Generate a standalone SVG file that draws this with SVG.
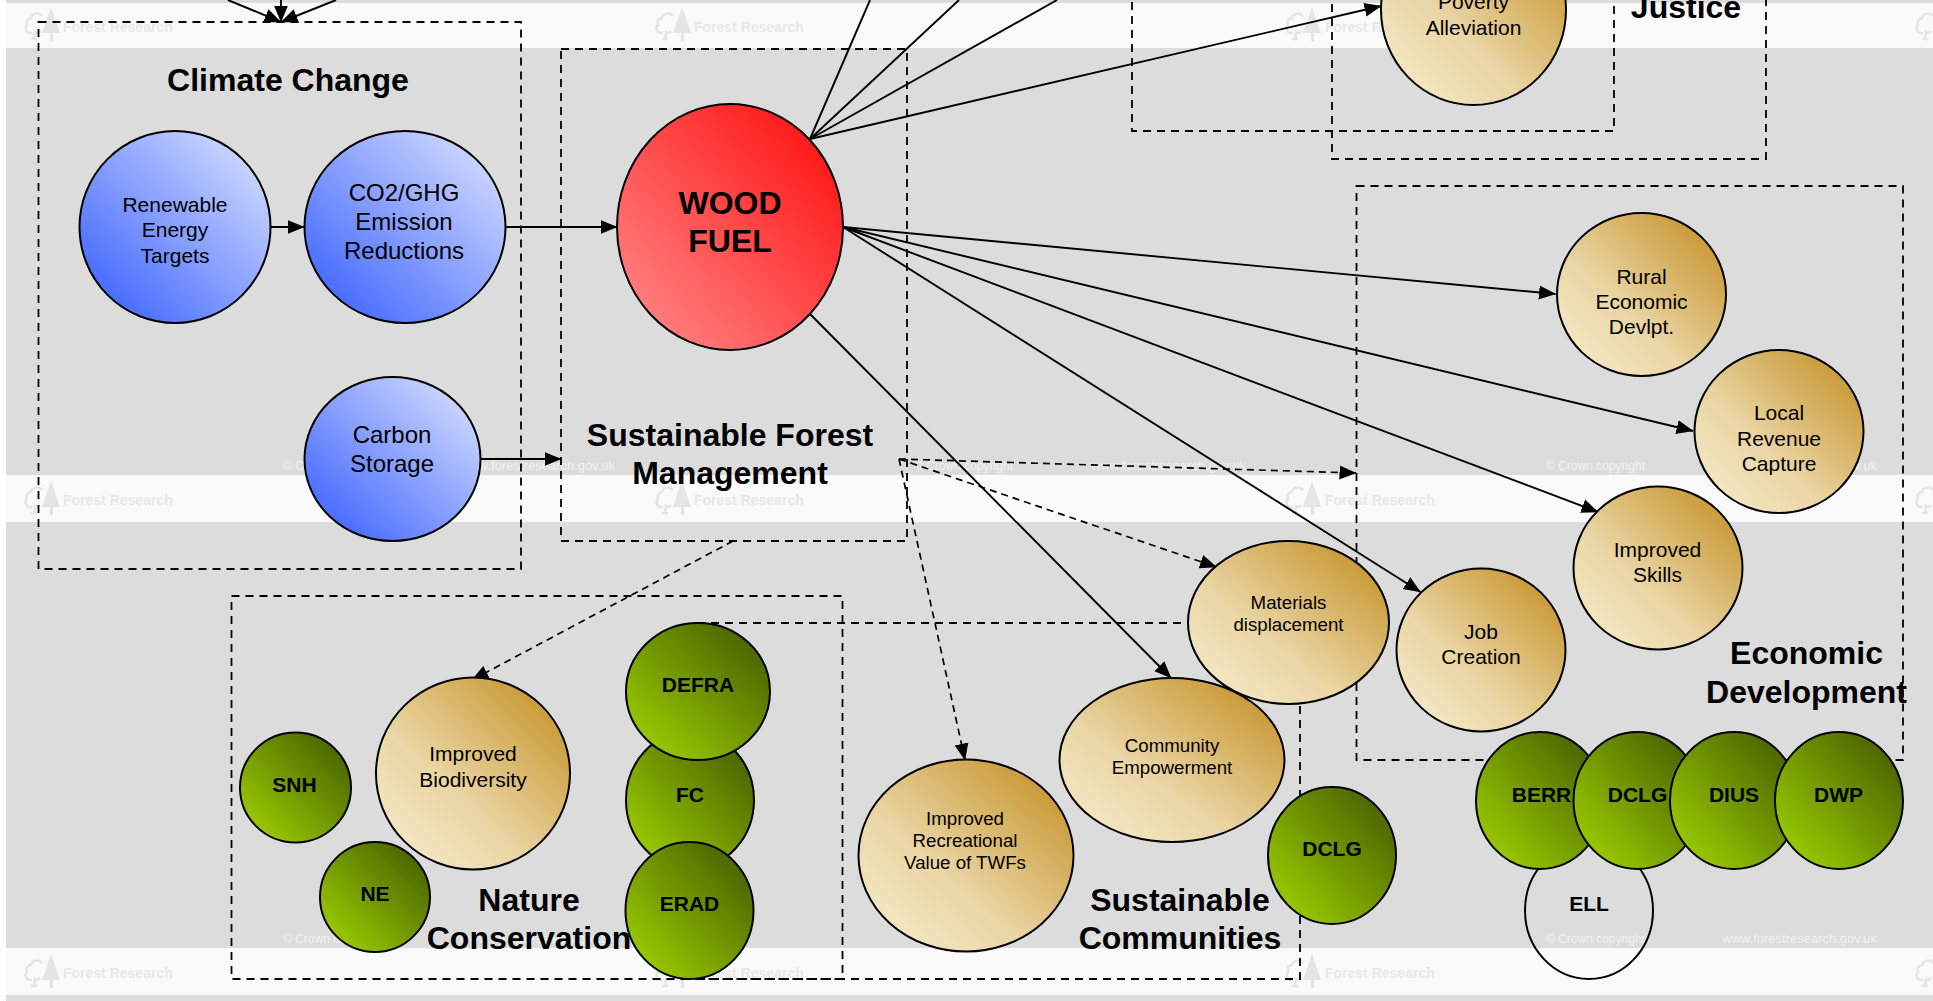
<svg xmlns="http://www.w3.org/2000/svg" width="1933" height="1001" viewBox="0 0 1933 1001" font-family="'Liberation Sans', Arial, sans-serif">
<style>
text{font-family:'Liberation Sans',Arial,sans-serif;text-anchor:middle;fill:#000}
.b{font-weight:bold}
.t{font-size:32px;font-weight:bold}
.g{font-size:21px;font-weight:bold}
.n21{font-size:21px}.n24{font-size:24px}.n19{font-size:18.7px}
.box{fill:none;stroke:#000;stroke-width:1.8;stroke-dasharray:8 6}
.node{stroke:#000;stroke-width:2}
.blue{fill:url(#blue)}.tan{fill:url(#tan)}.green{fill:url(#green)}.red{fill:url(#red)}
.c{stroke:#000;stroke-width:1.9;fill:none;marker-end:url(#arrow)}
.p{stroke:#000;stroke-width:1.9;fill:none}
.d{stroke:#000;stroke-width:1.7;fill:none;stroke-dasharray:7 5;marker-end:url(#arrow)}
.wm{font-size:14px;font-weight:bold;fill:#e8e8e8;text-anchor:start}
.cr{font-size:12px;fill:#f1f1f1;text-anchor:start}
.www{font-size:13px;fill:#f1f1f1;text-anchor:start}
</style>
<defs>
<linearGradient id="blue" x1="0.15" y1="0.85" x2="0.85" y2="0.15"><stop offset="0" stop-color="#4a6eff"/><stop offset="1" stop-color="#c6d2ff"/></linearGradient>
<linearGradient id="tan" x1="0.15" y1="0.85" x2="0.85" y2="0.15"><stop offset="0" stop-color="#f2e5bf"/><stop offset="0.35" stop-color="#ead6a6"/><stop offset="1" stop-color="#cb9c3a"/></linearGradient>
<linearGradient id="green" x1="0.15" y1="0.85" x2="0.85" y2="0.15"><stop offset="0" stop-color="#95c600"/><stop offset="1" stop-color="#4e6800"/></linearGradient>
<linearGradient id="red" x1="0.15" y1="0.85" x2="0.85" y2="0.15"><stop offset="0" stop-color="#ff7b7b"/><stop offset="1" stop-color="#ff1c1c"/></linearGradient>
<marker id="arrow" markerUnits="userSpaceOnUse" markerWidth="18" markerHeight="16" refX="16.5" refY="7.5" orient="auto"><path d="M0 0.5L17 7.5L0 14.5z" fill="#000"/></marker>
<g id="tree"><path d="M8 26C2 27 0 21 3 18C1 14 5 11 7 11C8 6 15 5 18 9" fill="none" stroke="#e5e5e5" stroke-width="2.5"/><path d="M16 24C14 27 12 26 11 25L10 32M7 32L13 32" fill="none" stroke="#e5e5e5" stroke-width="2.5"/><path d="M27 0L36 26L29 26L29 34L26 34L26 26L18 26z" fill="#e5e5e5"/></g>
</defs>

<g id="backdrop">
<rect width="1933" height="1001" fill="#fff"/>
<rect x="6" y="0" width="1927" height="1001" fill="#dcdcdc"/>
<rect x="6" y="3" width="1927" height="45" fill="#fafafa"/>
<rect x="6" y="475" width="1927" height="47" fill="#fafafa"/>
<rect x="6" y="948" width="1927" height="47" fill="#fafafa"/>
<use href="#tree" x="24" y="7"/><use href="#tree" x="655" y="7"/><use href="#tree" x="1285" y="7"/><use href="#tree" x="1915" y="7"/>
<use href="#tree" x="24" y="481"/><use href="#tree" x="655" y="481"/><use href="#tree" x="1285" y="481"/><use href="#tree" x="1915" y="481"/>
<use href="#tree" x="24" y="954"/><use href="#tree" x="655" y="954"/><use href="#tree" x="1285" y="954"/><use href="#tree" x="1915" y="954"/>
<text class="wm" x="63" y="32">Forest Research</text><text class="wm" x="694" y="32">Forest Research</text><text class="wm" x="1325" y="32">Forest Research</text>
<text class="wm" x="63" y="505">Forest Research</text><text class="wm" x="694" y="505">Forest Research</text><text class="wm" x="1325" y="505">Forest Research</text>
<text class="wm" x="63" y="978">Forest Research</text><text class="wm" x="694" y="978">Forest Research</text><text class="wm" x="1325" y="978">Forest Research</text>
<text class="cr" x="283" y="470">© Crown copyright</text><text class="cr" x="914" y="470">© Crown copyright</text><text class="cr" x="1546" y="470">© Crown copyright</text>
<text class="www" x="460" y="470">www.forestresearch.gov.uk</text><text class="www" x="1091" y="470">www.forestresearch.gov.uk</text><text class="www" x="1722" y="470">www.forestresearch.gov.uk</text>
<text class="cr" x="283" y="943">© Crown copyright</text><text class="cr" x="914" y="943">© Crown copyright</text><text class="cr" x="1546" y="943">© Crown copyright</text>
<text class="www" x="460" y="943">www.forestresearch.gov.uk</text><text class="www" x="1091" y="943">www.forestresearch.gov.uk</text><text class="www" x="1722" y="943">www.forestresearch.gov.uk</text>
</g>

<g id="sections">
<rect class="box" x="38.5" y="22" width="482.5" height="547"/>
<rect class="box" x="561" y="49" width="346" height="492"/>
<rect class="box" x="231.5" y="596" width="611" height="383"/>
<rect class="box" x="697" y="623" width="603" height="356"/>
<rect class="box" x="1132" y="-30" width="482" height="161"/>
<rect class="box" x="1332" y="-30" width="434" height="189"/>
<rect class="box" x="1356.5" y="186" width="546.5" height="574"/>
<text class="t" x="288" y="91">Climate Change</text>
<text class="t" x="730" y="446">Sustainable Forest</text>
<text class="t" x="730" y="484">Management</text>
<text class="t" x="529" y="911">Nature</text>
<text class="t" x="529" y="949">Conservation</text>
<text class="t" x="1180" y="911">Sustainable</text>
<text class="t" x="1180" y="949">Communities</text>
<text class="t" x="1806.5" y="664">Economic</text>
<text class="t" x="1806.5" y="703">Development</text>
<text class="t" x="1686" y="18">Justice</text>
</g>

<g id="connectors">
<line class="c" x1="228" y1="0" x2="281" y2="22"/>
<line class="c" x1="281" y1="0" x2="281" y2="22"/>
<line class="c" x1="336" y1="0" x2="281" y2="22"/>
<line class="c" x1="270" y1="227" x2="304" y2="227"/>
<line class="c" x1="505" y1="227" x2="617" y2="227"/>
<line class="c" x1="481" y1="459" x2="561" y2="459"/>
<line class="p" x1="810" y1="139" x2="870" y2="0"/>
<line class="p" x1="810" y1="139" x2="959" y2="0"/>
<line class="p" x1="810" y1="139" x2="1057" y2="0"/>
<line class="c" x1="810" y1="139" x2="1381" y2="6"/>
<line class="c" x1="843" y1="227" x2="1555.5" y2="294"/>
<line class="c" x1="843" y1="227" x2="1693" y2="431"/>
<line class="c" x1="843" y1="227" x2="1598" y2="512"/>
<line class="c" x1="843" y1="227" x2="1420.5" y2="592"/>
<line class="c" x1="810" y1="314" x2="1171" y2="678"/>
<line class="d" x1="899" y1="459" x2="1356" y2="473"/>
<line class="d" x1="899" y1="459" x2="1216.5" y2="567"/>
<line class="d" x1="899" y1="459" x2="965" y2="760"/>
<line class="d" x1="733" y1="541" x2="472" y2="680"/>
</g>

<g id="renewable"><ellipse class="node blue" cx="175" cy="227" rx="95.5" ry="96"/><text class="n21" x="175" y="212">Renewable</text><text class="n21" x="175" y="237">Energy</text><text class="n21" x="175" y="263">Targets</text></g>
<g id="co2"><ellipse class="node blue" cx="405" cy="227" rx="100.5" ry="96"/><text class="n24" x="404" y="201">CO2/GHG</text><text class="n24" x="404" y="230">Emission</text><text class="n24" x="404" y="259">Reductions</text></g>
<g id="carbon"><ellipse class="node blue" cx="392.5" cy="459" rx="88" ry="82"/><text class="n24" x="392" y="443">Carbon</text><text class="n24" x="392" y="472">Storage</text></g>
<g id="woodfuel"><ellipse class="node red" cx="730" cy="227" rx="113" ry="123"/><text class="b" font-size="32" x="730" y="214">WOOD</text><text class="b" font-size="32" x="730" y="252">FUEL</text></g>
<g id="poverty"><ellipse class="node tan" cx="1473.5" cy="10" rx="92.5" ry="95"/><text class="n21" x="1473.5" y="9">Poverty</text><text class="n21" x="1473.5" y="35">Alleviation</text></g>
<g id="rural"><ellipse class="node tan" cx="1641.5" cy="294.5" rx="84.5" ry="81.5"/><text class="n21" x="1641.5" y="284">Rural</text><text class="n21" x="1641.5" y="309">Economic</text><text class="n21" x="1641.5" y="334">Devlpt.</text></g>
<g id="local"><ellipse class="node tan" cx="1779" cy="431.5" rx="84.5" ry="81.5"/><text class="n21" x="1779" y="420">Local</text><text class="n21" x="1779" y="446">Revenue</text><text class="n21" x="1779" y="471">Capture</text></g>
<g id="skills"><ellipse class="node tan" cx="1658" cy="568" rx="84.5" ry="81.5"/><text class="n21" x="1657.5" y="557">Improved</text><text class="n21" x="1657.5" y="582">Skills</text></g>
<g id="materials"><ellipse class="node tan" cx="1288.5" cy="622.5" rx="100.5" ry="81.5"/><text class="n19" x="1288.5" y="609">Materials</text><text class="n19" x="1288.5" y="631">displacement</text></g>
<g id="community"><ellipse class="node tan" cx="1172" cy="760" rx="112.5" ry="82"/><text class="n19" x="1172" y="752">Community</text><text class="n19" x="1172" y="774">Empowerment</text></g>
<g id="job"><ellipse class="node tan" cx="1481" cy="650" rx="84.5" ry="81.5"/><text class="n21" x="1481" y="639">Job</text><text class="n21" x="1481" y="664">Creation</text></g>
<g id="recreation"><ellipse class="node tan" cx="966" cy="855.5" rx="107.5" ry="96"/><text class="n19" x="965" y="825">Improved</text><text class="n19" x="965" y="847">Recreational</text><text class="n19" x="965" y="869">Value of TWFs</text></g>
<g id="biodiversity"><ellipse class="node tan" cx="473" cy="773.5" rx="97" ry="96"/><text class="n21" x="473" y="761">Improved</text><text class="n21" x="473" y="787">Biodiversity</text></g>
<g id="snh"><ellipse class="node green" cx="295.5" cy="787.5" rx="55.5" ry="55"/><text class="g" x="294.5" y="792">SNH</text></g>
<g id="ne"><ellipse class="node green" cx="375" cy="897" rx="55" ry="55"/><text class="g" x="375" y="901">NE</text></g>
<g id="fc"><ellipse class="node green" cx="690" cy="800" rx="64" ry="69"/><text class="g" x="690" y="802">FC</text></g>
<g id="defra"><ellipse class="node green" cx="698" cy="691.5" rx="72" ry="68.5"/><text class="g" x="698" y="692">DEFRA</text></g>
<g id="erad"><ellipse class="node green" cx="689.5" cy="910.5" rx="64" ry="68.5"/><text class="g" x="689.5" y="911">ERAD</text></g>
<g id="dclg-communities"><ellipse class="node green" cx="1332" cy="855.5" rx="64" ry="68.5"/><text class="g" x="1332" y="856">DCLG</text></g>
<g id="ell"><ellipse class="node" fill="none" cx="1589" cy="910.5" rx="64" ry="68.5"/><text class="g" x="1589" y="911">ELL</text></g>
<g id="berr"><ellipse class="node green" cx="1540" cy="800.5" rx="64" ry="68.5"/><text class="g" x="1541.5" y="802">BERR</text></g>
<g id="dclg"><ellipse class="node green" cx="1637.5" cy="800.5" rx="64" ry="68.5"/><text class="g" x="1637.5" y="802">DCLG</text></g>
<g id="dius"><ellipse class="node green" cx="1734" cy="800.5" rx="64" ry="68.5"/><text class="g" x="1734" y="802">DIUS</text></g>
<g id="dwp"><ellipse class="node green" cx="1839" cy="800.5" rx="64" ry="68.5"/><text class="g" x="1838.5" y="802">DWP</text></g>
</svg>
